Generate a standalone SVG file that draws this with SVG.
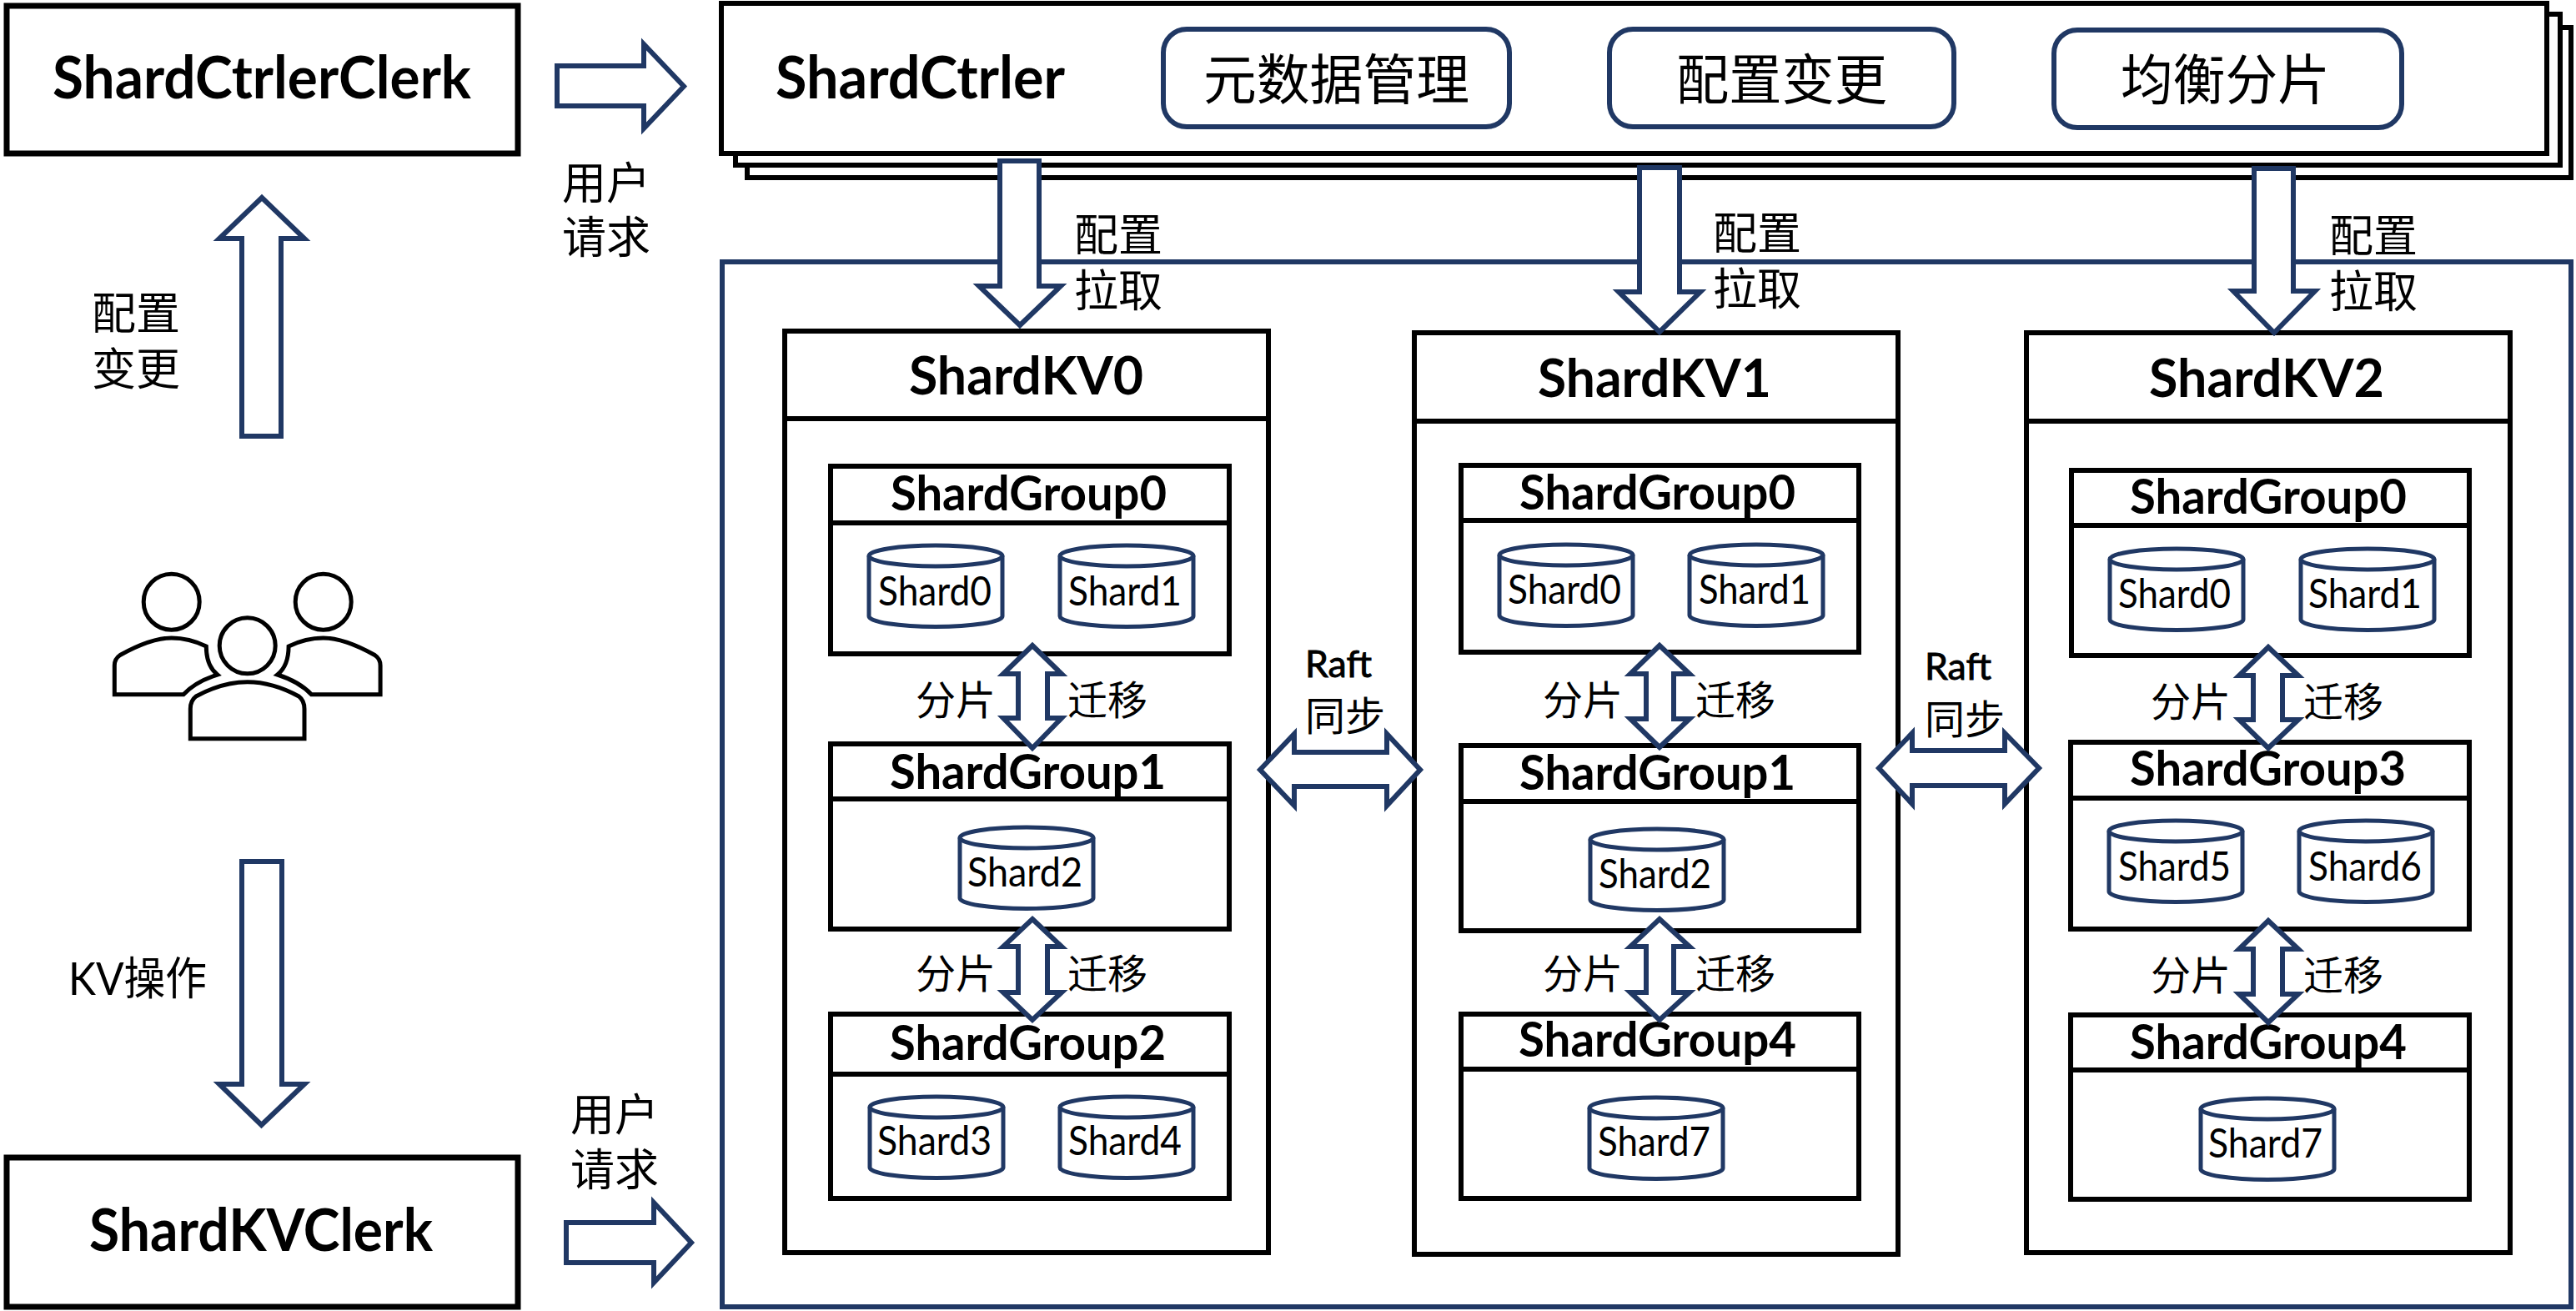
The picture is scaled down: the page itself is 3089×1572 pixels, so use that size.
<svg xmlns="http://www.w3.org/2000/svg" width="3089" height="1572" viewBox="0 0 3089 1572">
<style>
text{fill:#000;font-family:"Noto Sans CJK SC","Noto Sans",sans-serif}
.b{fill:#fff;stroke:#000;stroke-width:6}
.k{fill:none;stroke:#000;stroke-width:6}
.a{fill:#fff;stroke:#203864;stroke-width:6}
.n{fill:none;stroke:#203864;stroke-width:6}
.r{fill:#fff;stroke:#203864;stroke-width:5}
.p{fill:none;stroke:#000;stroke-width:5}
.zh{font-size:53px}.mi{font-size:48px}.big{font-size:65px}
.h1{font:700 70px Lato,"Liberation Sans",sans-serif}
.h2{font:700 64px Lato,"Liberation Sans",sans-serif}
.h3{font:700 58px Lato,"Liberation Sans",sans-serif}
.s{font:400 48px Lato,"Liberation Sans",sans-serif}
.ra{font:400 44px Lato,"Liberation Sans",sans-serif;stroke:#000;stroke-width:.9px}
.kv{font:400 54px Lato,"Noto Sans CJK SC",sans-serif}
</style>
<defs>
<g id="cyl">
<path class="r" d="M0,12.500A80,12.500 0 0 1 160,12.500V85A80,12.500 0 0 1 0,85Z"/>
<path class="r" style="fill:none" d="M0,12.500A80,12.500 0 0 0 160,12.500"/>
</g>
</defs>
<rect width="3089" height="1572" fill="#fff"/>

<g id="shard-ctrler-clerk">
<rect x="8" y="7" width="613" height="177" fill="#fff" stroke="#000" stroke-width="7"/>
<text class="h1" x="63" y="118" textLength="502" lengthAdjust="spacingAndGlyphs">ShardCtrlerClerk</text>
</g>

<g id="shard-kv-clerk">
<rect x="8" y="1388" width="613" height="179" fill="#fff" stroke="#000" stroke-width="7"/>
<text class="h1" x="107" y="1500" textLength="412" lengthAdjust="spacingAndGlyphs">ShardKVClerk</text>
</g>

<g id="users">
<circle class="p" cx="205.700" cy="721.700" r="33.500"/>
<circle class="p" cx="387.700" cy="721.700" r="33.500"/>
<circle class="p" cx="296.700" cy="774.300" r="33.500"/>
<path class="p" d="M137.300,832.700V798Q137.300,790 144,785.500C170,771 190,765 205.700,765C220,765 235,769 247.300,775C247.300,790 252,802 260.700,809C245,814 230,822 220,832.700Z"/>
<path class="p" d="M456.100,832.700V798Q456.100,790 449.400,785.500C423.400,771 403.400,765 387.700,765C373.400,765 358.400,769 346.100,775C346.100,790 341.400,802 332.700,809C348.400,814 363.400,822 373.400,832.700Z"/>
<path class="p" d="M228.300,885.700V850Q228.300,840 235,835C255,824 275,817.700 296.700,817.700C318.400,817.700 338.400,824 358.400,835Q365,840 365,850V885.700Z"/>
</g>

<g id="shard-ctrler">
<rect class="k" x="896" y="33" width="2187" height="180" style="fill:#fff"/>
<rect class="k" x="882" y="17" width="2188" height="181" style="fill:#fff"/>
<rect class="k" x="865" y="4" width="2189" height="180" style="fill:#fff"/>
<text class="h1" x="930" y="118" textLength="347" lengthAdjust="spacingAndGlyphs">ShardCtrler</text>
<rect class="a" x="1395" y="35" width="415" height="117" rx="28"/>
<text class="big" x="1443" y="119" textLength="319" lengthAdjust="spacingAndGlyphs">元数据管理</text>
<rect class="a" x="1930" y="35" width="413" height="117" rx="28"/>
<text class="big" x="2010" y="119" textLength="253" lengthAdjust="spacingAndGlyphs">配置变更</text>
<rect class="a" x="2463" y="36" width="417" height="117" rx="28"/>
<text class="big" x="2543" y="119" textLength="251" lengthAdjust="spacingAndGlyphs">均衡分片</text>
</g>

<g id="cluster"><rect class="n" x="866" y="314" width="2217" height="1253"/></g>

<g id="shardkv0">
<rect class="b" x="941" y="397" width="580" height="1105"/>
<line class="k" x1="941" y1="502" x2="1521" y2="502"/>
<text class="h2" x="1090" y="473" textLength="281" lengthAdjust="spacingAndGlyphs">ShardKV0</text>
<g id="kv0-group0">
<rect class="b" x="996" y="559" width="478" height="225"/><line class="k" x1="996" y1="627" x2="1474" y2="627"/>
<text class="h3" x="1068" y="612" textLength="331" lengthAdjust="spacingAndGlyphs">ShardGroup0</text>
<use href="#cyl" x="1042" y="654"/><use href="#cyl" x="1271" y="654"/>
<text class="s" x="1053" y="726" textLength="136" lengthAdjust="spacingAndGlyphs">Shard0</text>
<text class="s" x="1281" y="726" textLength="136" lengthAdjust="spacingAndGlyphs">Shard1</text>
</g>
<g id="kv0-group1">
<rect class="b" x="996" y="892" width="478" height="222"/><line class="k" x1="996" y1="958" x2="1474" y2="958"/>
<text class="h3" x="1067" y="946" textLength="331" lengthAdjust="spacingAndGlyphs">ShardGroup1</text>
<use href="#cyl" x="1151" y="992"/>
<text class="s" x="1160" y="1063" textLength="138" lengthAdjust="spacingAndGlyphs">Shard2</text>
</g>
<g id="kv0-group2">
<rect class="b" x="996" y="1216" width="478" height="221"/><line class="k" x1="996" y1="1288" x2="1474" y2="1288"/>
<text class="h3" x="1067" y="1271" textLength="331" lengthAdjust="spacingAndGlyphs">ShardGroup2</text>
<use href="#cyl" x="1043" y="1315"/><use href="#cyl" x="1271" y="1315"/>
<text class="s" x="1052" y="1385" textLength="137" lengthAdjust="spacingAndGlyphs">Shard3</text>
<text class="s" x="1281" y="1385" textLength="136" lengthAdjust="spacingAndGlyphs">Shard4</text>
</g>
</g>

<g id="shardkv1">
<rect class="b" x="1696" y="399" width="580" height="1105"/>
<line class="k" x1="1696" y1="505" x2="2276" y2="505"/>
<text class="h2" x="1844" y="476" textLength="280" lengthAdjust="spacingAndGlyphs">ShardKV1</text>
<g id="kv1-group0">
<rect class="b" x="1752" y="558" width="477" height="224"/><line class="k" x1="1752" y1="624" x2="2229" y2="624"/>
<text class="h3" x="1822" y="611" textLength="331" lengthAdjust="spacingAndGlyphs">ShardGroup0</text>
<use href="#cyl" x="1798" y="653"/><use href="#cyl" x="2026" y="653"/>
<text class="s" x="1808" y="724" textLength="136" lengthAdjust="spacingAndGlyphs">Shard0</text>
<text class="s" x="2037" y="724" textLength="134" lengthAdjust="spacingAndGlyphs">Shard1</text>
</g>
<g id="kv1-group1">
<rect class="b" x="1752" y="894" width="477" height="222"/><line class="k" x1="1752" y1="961" x2="2229" y2="961"/>
<text class="h3" x="1822" y="947" textLength="331" lengthAdjust="spacingAndGlyphs">ShardGroup1</text>
<use href="#cyl" x="1907" y="994"/>
<text class="s" x="1917" y="1065" textLength="135" lengthAdjust="spacingAndGlyphs">Shard2</text>
</g>
<g id="kv1-group4">
<rect class="b" x="1752" y="1216" width="477" height="221"/><line class="k" x1="1752" y1="1282" x2="2229" y2="1282"/>
<text class="h3" x="1821" y="1267" textLength="333" lengthAdjust="spacingAndGlyphs">ShardGroup4</text>
<use href="#cyl" x="1906" y="1316"/>
<text class="s" x="1916" y="1386" textLength="135" lengthAdjust="spacingAndGlyphs">Shard7</text>
</g>
</g>

<g id="shardkv2">
<rect class="b" x="2430" y="399" width="580" height="1103"/>
<line class="k" x1="2430" y1="505" x2="3010" y2="505"/>
<text class="h2" x="2577" y="476" textLength="282" lengthAdjust="spacingAndGlyphs">ShardKV2</text>
<g id="kv2-group0">
<rect class="b" x="2484" y="564" width="477" height="222"/><line class="k" x1="2484" y1="630" x2="2961" y2="630"/>
<text class="h3" x="2554" y="616" textLength="332" lengthAdjust="spacingAndGlyphs">ShardGroup0</text>
<use href="#cyl" x="2530" y="658"/><use href="#cyl" x="2759" y="658"/>
<text class="s" x="2540" y="729" textLength="135" lengthAdjust="spacingAndGlyphs">Shard0</text>
<text class="s" x="2768" y="729" textLength="136" lengthAdjust="spacingAndGlyphs">Shard1</text>
</g>
<g id="kv2-group3">
<rect class="b" x="2483" y="890" width="478" height="224"/><line class="k" x1="2483" y1="957" x2="2961" y2="957"/>
<text class="h3" x="2554" y="942" textLength="331" lengthAdjust="spacingAndGlyphs">ShardGroup3</text>
<use href="#cyl" x="2529" y="984"/><use href="#cyl" x="2757" y="984"/>
<text class="s" x="2540" y="1056" textLength="135" lengthAdjust="spacingAndGlyphs">Shard5</text>
<text class="s" x="2768" y="1056" textLength="136" lengthAdjust="spacingAndGlyphs">Shard6</text>
</g>
<g id="kv2-group4">
<rect class="b" x="2483" y="1217" width="478" height="221"/><line class="k" x1="2483" y1="1283" x2="2961" y2="1283"/>
<text class="h3" x="2554" y="1270" textLength="332" lengthAdjust="spacingAndGlyphs">ShardGroup4</text>
<use href="#cyl" x="2639" y="1317"/>
<text class="s" x="2648" y="1388" textLength="137" lengthAdjust="spacingAndGlyphs">Shard7</text>
</g>
</g>

<g id="connectors">
<polygon class="a" points="668,79 772,79 772,53 820,103.500 772,154 772,127 668,127"/>
<polygon class="a" points="314,237 365,286 337,286 337,523 290,523 290,286 263,286"/>
<polygon class="a" points="290,1033 338,1033 338,1300 365,1300 313.500,1349 263,1300 290,1300"/>
<polygon class="a" points="679,1466 784,1466 784,1442 829,1490 784,1538 784,1514 679,1514"/>
<polygon class="a" points="1199,193 1246,193 1246,343 1272,343 1223,390 1174,343 1199,343"/>
<polygon class="a" points="1966,201 2014,201 2014,350 2039,350 1990,398 1941,350 1966,350"/>
<polygon class="a" points="2703,202 2750,202 2750,349 2776,349 2727,399 2678,349 2703,349"/>
<polygon class="a" points="1238,774 1273,808 1256,808 1256,861 1273,861 1238,897 1203,861 1221,861 1221,808 1203,808"/>
<polygon class="a" points="1238,1102 1273,1135 1256,1135 1256,1190 1273,1190 1238,1223 1203,1190 1221,1190 1221,1135 1203,1135"/>
<polygon class="a" points="1990,774 2026,808 2007,808 2007,862 2026,862 1990,896 1955,862 1974,862 1974,808 1955,808"/>
<polygon class="a" points="1990,1102 2026,1135 2007,1135 2007,1190 2026,1190 1990,1223 1955,1190 1974,1190 1974,1135 1955,1135"/>
<polygon class="a" points="2720,776 2756,810 2737,810 2737,863 2756,863 2720,897 2685,863 2702,863 2702,810 2685,810"/>
<polygon class="a" points="2720,1104 2756,1138 2737,1138 2737,1192 2756,1192 2720,1226 2685,1192 2702,1192 2702,1138 2685,1138"/>
<polygon class="a" points="1511,923 1552,880 1552,902 1663,902 1663,880 1703,923 1663,966 1663,943 1552,943 1552,966"/>
<polygon class="a" points="2253,921 2293,879 2293,900 2404,900 2404,879 2445,921 2404,964 2404,942 2293,942 2293,964"/>
</g>

<g id="labels">
<text class="zh" x="110" y="395">配置</text><text class="zh" x="110" y="462">变更</text>
<text class="zh" x="674" y="239">用户</text><text class="zh" x="674" y="304">请求</text>
<text class="zh" x="684" y="1356">用户</text><text class="zh" x="684" y="1422">请求</text>
<text class="kv" x="82" y="1193" textLength="166" lengthAdjust="spacingAndGlyphs">KV操作</text>
<text class="zh" x="1288" y="301">配置</text><text class="zh" x="1288" y="368">拉取</text>
<text class="zh" x="2054" y="299">配置</text><text class="zh" x="2054" y="366">拉取</text>
<text class="zh" x="2793" y="302">配置</text><text class="zh" x="2793" y="369">拉取</text>
<text class="mi" x="1098" y="857">分片</text><text class="mi" x="1280" y="857">迁移</text>
<text class="mi" x="1098" y="1185">分片</text><text class="mi" x="1280" y="1185">迁移</text>
<text class="mi" x="1850" y="857">分片</text><text class="mi" x="2033" y="857">迁移</text>
<text class="mi" x="1850" y="1185">分片</text><text class="mi" x="2033" y="1185">迁移</text>
<text class="mi" x="2579" y="859">分片</text><text class="mi" x="2762" y="859">迁移</text>
<text class="mi" x="2579" y="1187">分片</text><text class="mi" x="2762" y="1187">迁移</text>
<text class="ra" x="1565" y="812" textLength="80" lengthAdjust="spacingAndGlyphs">Raft</text>
<text class="mi" x="1565" y="876">同步</text>
<text class="ra" x="2308" y="815" textLength="80" lengthAdjust="spacingAndGlyphs">Raft</text>
<text class="mi" x="2308" y="880">同步</text>
</g>
</svg>
